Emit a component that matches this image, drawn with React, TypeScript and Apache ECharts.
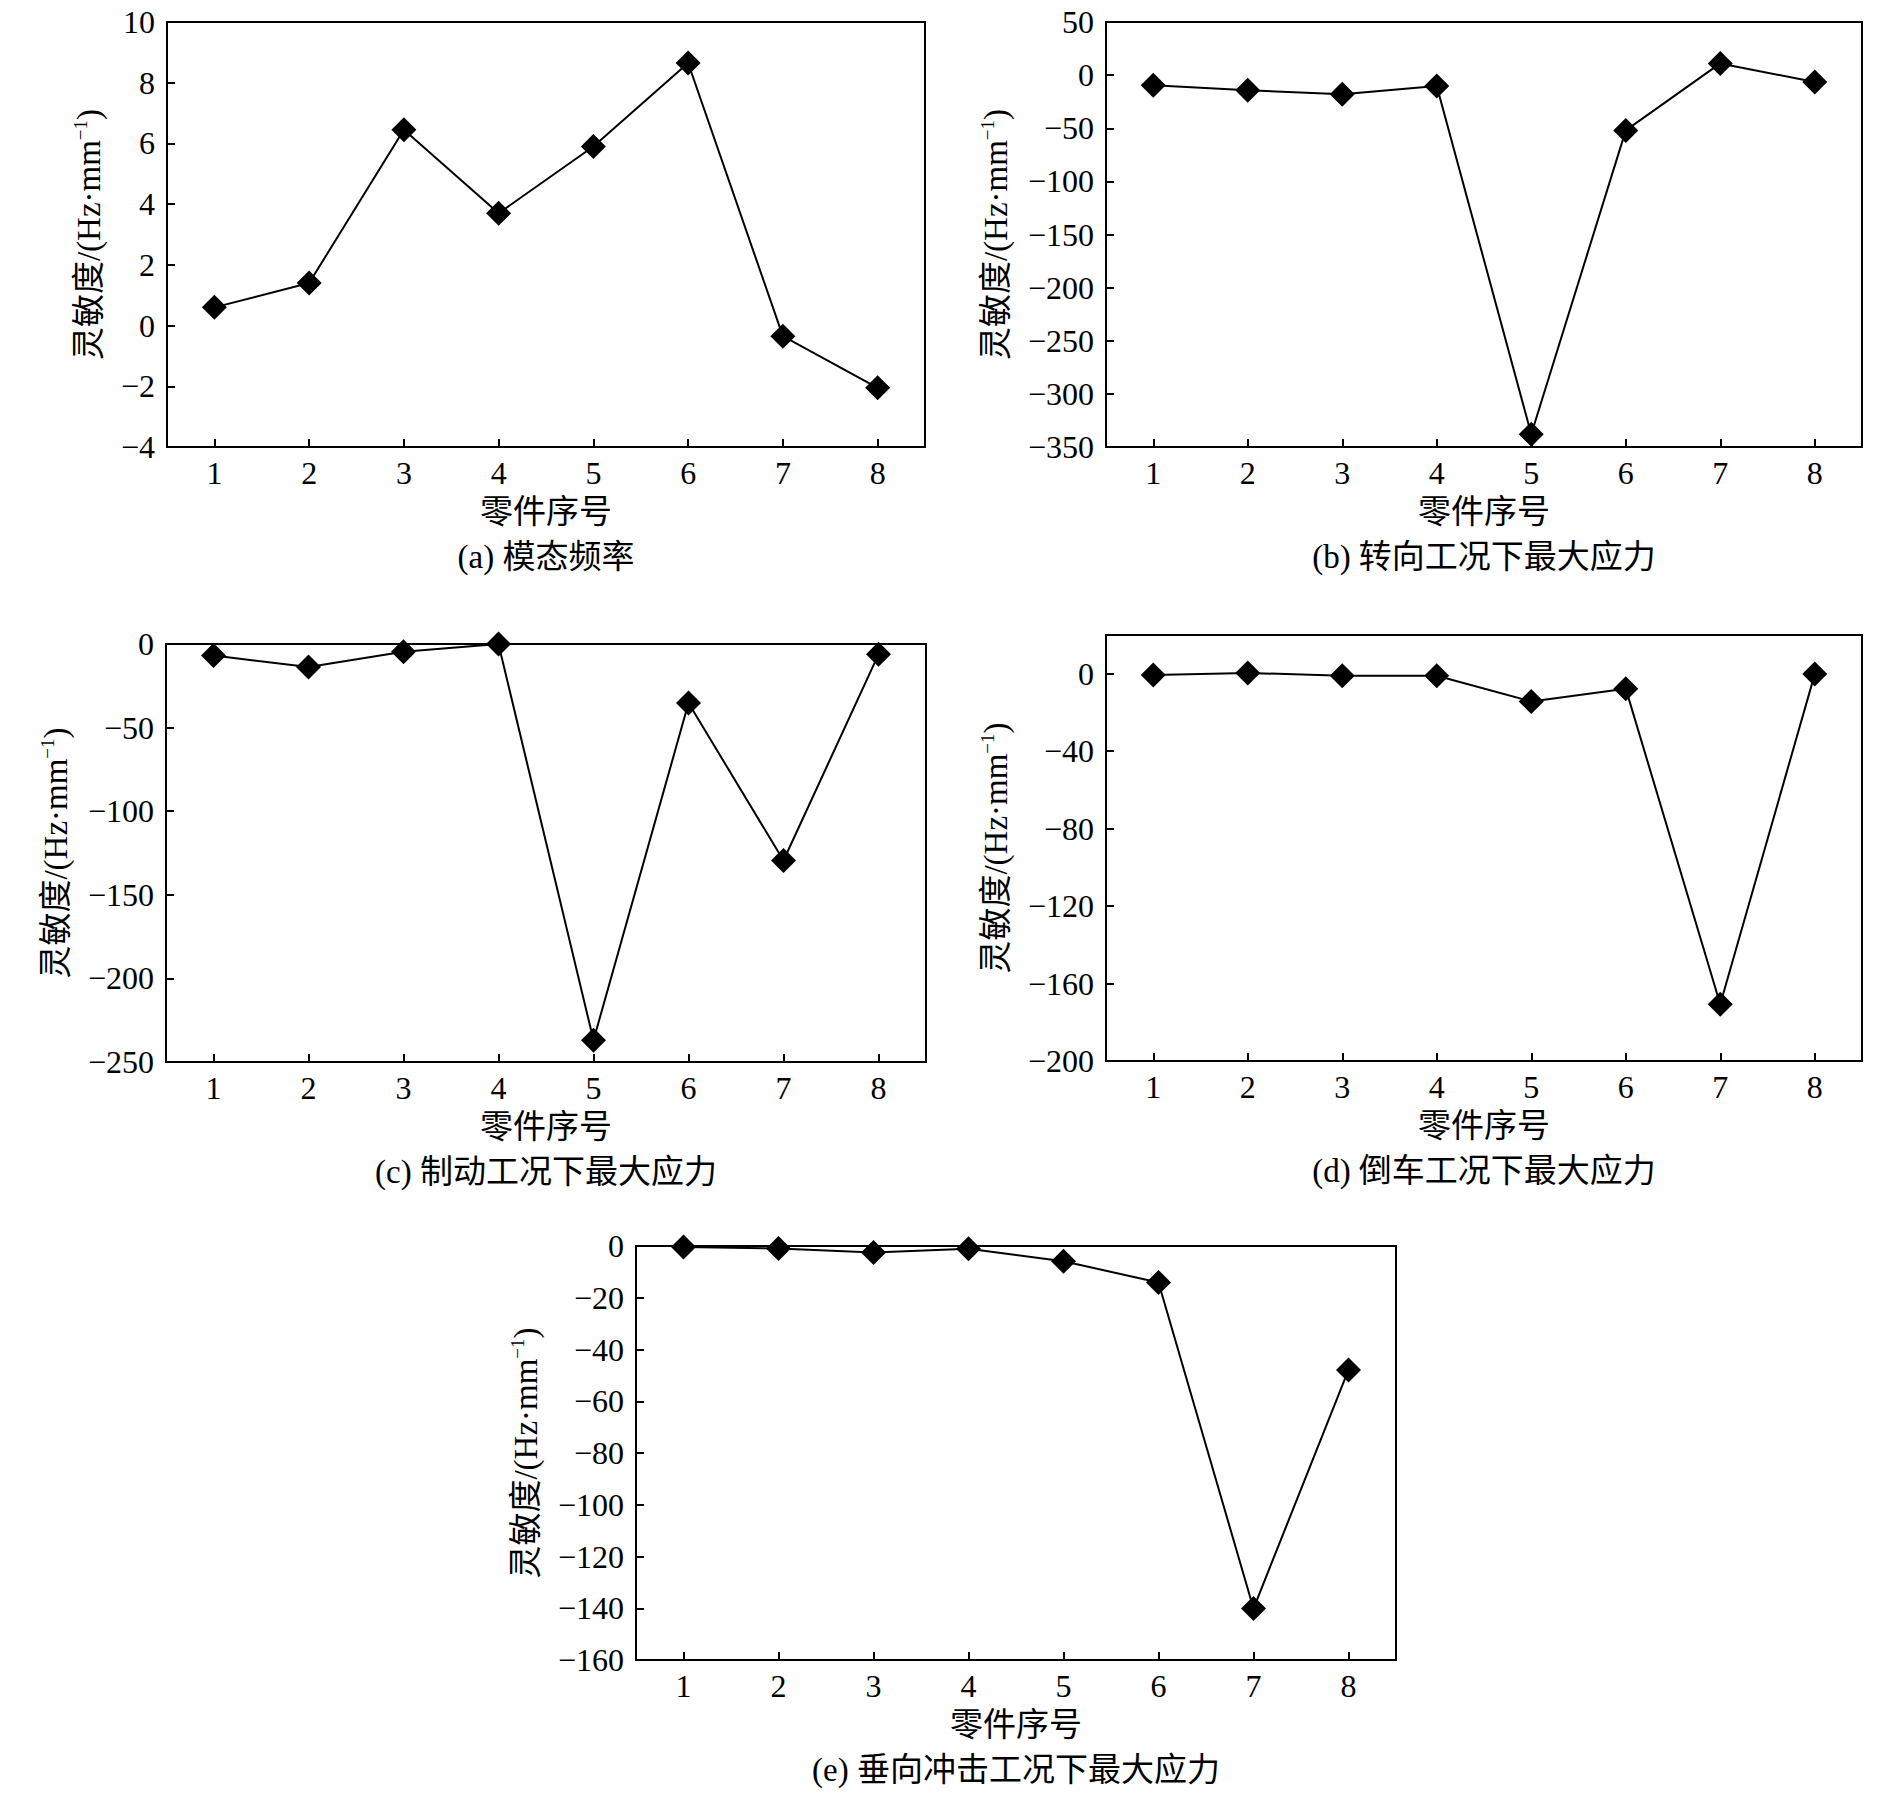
import React, { useEffect, useRef } from 'react';
import * as echarts from 'echarts';

// ---- data ----
const partNumbers = ['1', '2', '3', '4', '5', '6', '7', '8'];
const modalFrequency = [0.6, 1.4, 6.45, 3.7, 5.9, 8.65, -0.35, -2.05];
const steeringStress = [-9.6, -14.3, -17.9, -10.2, -338, -52, 11, -6.5];
const brakingStress = [-6.9, -13.8, -4.6, 0, -237, -35.3, -129.5, -6.2];
const reverseStress = [-0.6, 0.4, -1, -1, -14.3, -7.7, -170.7, -0.2];
const impactStress = [-0.4, -1, -2.5, -1.1, -5.9, -14.1, -140.1, -47.9];

const captions = [
  '(a) 模态频率',
  '(b) 转向工况下最大应力',
  '(c) 制动工况下最大应力',
  '(d) 倒车工况下最大应力',
  '(e) 垂向冲击工况下最大应力',
];
const yMins = [-4, -350, -250, -200, -160];
const yMaxs = [10, 50, 0, 20, 0];
const yIntervals = [2, 50, 50, 40, 20];
const xAxisTitle = '零件序号';

// ---- layout (not data) ----
const layouts = [
  { left: 167, top: 22, width: 758, height: 425, nameGap: 60 },
  { left: 1106, top: 22, width: 756, height: 425, nameGap: 92 },
  { left: 166, top: 644, width: 760, height: 418, nameGap: 92 },
  { left: 1106, top: 635, width: 756, height: 426, nameGap: 92 },
  { left: 636, top: 1246, width: 760, height: 414, nameGap: 92 },
];

const SERIF = "'Liberation Serif', serif";
const MIXED = "'Liberation Serif', 'Noto Sans CJK SC', serif";

export default function App() {
  const ref = useRef<HTMLDivElement>(null);
  useEffect(() => {
    if (!ref.current) return;
    const chart = echarts.init(ref.current, undefined, { renderer: 'svg' });
    const seriesData = [modalFrequency, steeringStress, brakingStress, reverseStress, impactStress];

    const grid: any[] = [];
    const xAxis: any[] = [];
    const yAxis: any[] = [];
    const series: any[] = [];
    const graphic: any[] = [];

    layouts.forEach((l, i) => {
      grid.push({
        left: l.left,
        top: l.top,
        width: l.width,
        height: l.height,
        show: true,
        borderColor: '#000',
        borderWidth: 2,
        backgroundColor: 'transparent',
        containLabel: false,
      });
      xAxis.push({
        type: 'category',
        gridIndex: i,
        data: partNumbers,
        boundaryGap: true,
        name: xAxisTitle,
        nameLocation: 'middle',
        nameGap: 48,
        nameTextStyle: { fontFamily: MIXED, fontSize: 33, color: '#000' },
        axisLine: { show: true, onZero: false, lineStyle: { color: '#000', width: 2 } },
        axisTick: { show: true, inside: true, alignWithLabel: true, length: 8, lineStyle: { color: '#000', width: 2 } },
        axisLabel: { interval: 0, margin: 10, fontFamily: SERIF, fontSize: 32, color: '#000' },
        splitLine: { show: false },
      });
      yAxis.push({
        type: 'value',
        gridIndex: i,
        min: yMins[i],
        max: yMaxs[i],
        interval: yIntervals[i],
        name: '{a|灵敏度/(Hz·mm}{sup|−1}{a|)}',
        nameLocation: 'middle',
        nameGap: l.nameGap,
        nameTextStyle: {
          color: '#000',
          rich: {
            a: { fontFamily: MIXED, fontSize: 33, color: '#000', lineHeight: 36 },
            sup: { fontFamily: SERIF, fontSize: 19, color: '#000', lineHeight: 20, verticalAlign: 'top' },
          },
        },
        axisLine: { show: true, onZero: false, lineStyle: { color: '#000', width: 2 } },
        axisTick: { show: true, inside: true, length: 8, lineStyle: { color: '#000', width: 2 } },
        axisLabel: {
          margin: 12,
          fontFamily: SERIF,
          fontSize: 32,
          color: '#000',
          showMaxLabel: i === 3 ? false : true,
          formatter: (v: number) => String(v).replace('-', '−'),
        },
        splitLine: { show: false },
      });
      series.push({
        type: 'line',
        xAxisIndex: i,
        yAxisIndex: i,
        data: seriesData[i],
        symbol: 'diamond',
        symbolSize: 25,
        clip: false,
        lineStyle: { color: '#000', width: 2 },
        itemStyle: { color: '#000' },
      });
      graphic.push({
        type: 'text',
        x: l.left + l.width / 2,
        y: l.top + l.height + 110,
        style: {
          text: captions[i],
          font: `33px ${MIXED}`,
          fill: '#000',
          textAlign: 'center',
          textVerticalAlign: 'middle',
          align: 'center',
          verticalAlign: 'middle',
        },
      });
    });

    chart.setOption({
      animation: false,
      backgroundColor: '#fff',
      grid,
      xAxis,
      yAxis,
      series,
      graphic,
    });
    return () => chart.dispose();
  }, []);
  return (
    <div
      ref={ref}
      style={{ position: 'absolute', left: 0, top: 0, width: 1890, height: 1794, background: '#fff' }}
    />
  );
}
